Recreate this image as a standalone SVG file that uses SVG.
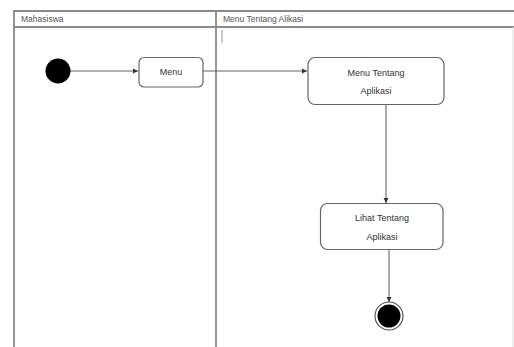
<svg xmlns="http://www.w3.org/2000/svg" width="514" height="347" viewBox="0 0 514 347">
<style>
.lane{stroke:#8a8a8a;stroke-width:1.8;fill:none}
.box{fill:#fff;stroke:#666;stroke-width:1.2}
.t{font-family:"Liberation Sans",Arial,sans-serif;font-size:9px;fill:#333;text-anchor:middle}
.h{font-family:"Liberation Sans",Arial,sans-serif;font-size:8.5px;fill:#555}
.c{stroke:#666;stroke-width:1.1;fill:none}
</style>
<defs>
<marker id="ah" markerWidth="6" markerHeight="6" refX="5" refY="3" orient="auto" markerUnits="userSpaceOnUse">
<path d="M0,0.5 L5,3 L0,5.5 Z" fill="#333"/>
</marker>
</defs>
<rect width="514" height="347" fill="#fff"/>
<g id="lanes">
<path class="lane" d="M14,347 V11 H514"/>
<path class="lane" d="M14,27 H514"/>
<path class="lane" d="M216,11 V347"/>
<path d="M513,27 V347" stroke="#ddd" stroke-width="1"/>
<path d="M222,30 V43" stroke="#999" stroke-width="1"/>
<text class="h" x="21" y="22">Mahasiswa</text>
<text class="h" x="223" y="22">Menu Tentang Alikasi</text>
</g>
<g id="connectors">
<path class="c" d="M70,71 H138" marker-end="url(#ah)"/>
<path class="c" d="M203,71 H307" marker-end="url(#ah)"/>
<path class="c" d="M386,105 V203" marker-end="url(#ah)"/>
<path class="c" d="M389,250 V302" marker-end="url(#ah)"/>
</g>
<g id="start">
<circle cx="58" cy="71" r="12.5" fill="#000"/>
</g>
<g id="menu">
<rect class="box" x="139" y="57.5" width="64" height="29.5" rx="5"/>
<text class="t" x="171" y="75">Menu</text>
</g>
<g id="menu-tentang">
<rect class="box" x="308" y="57.5" width="136" height="47" rx="7"/>
<text class="t" x="376" y="76">Menu Tentang</text>
<text class="t" x="376" y="94">Aplikasi</text>
</g>
<g id="lihat-tentang">
<rect class="box" x="320.5" y="203.5" width="122.5" height="46" rx="7"/>
<text class="t" x="382" y="221">Lihat Tentang</text>
<text class="t" x="382" y="240">Aplikasi</text>
</g>
<g id="end">
<circle cx="389" cy="316" r="14" fill="#fff" stroke="#555" stroke-width="1.2"/>
<circle cx="389" cy="316" r="11.5" fill="#000"/>
</g>
</svg>
